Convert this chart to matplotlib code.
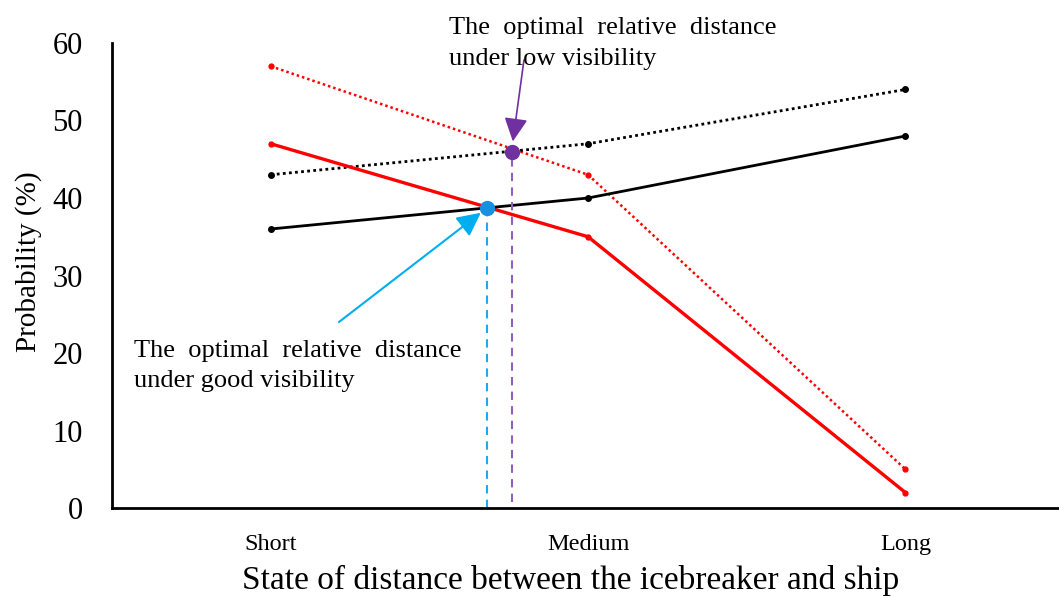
import matplotlib
matplotlib.use('Agg')
import matplotlib.pyplot as plt

plt.rcParams['font.family'] = ['Liberation Serif', 'DejaVu Serif']

categories = ['Short', 'Medium', 'Long']
good_red = [47, 35, 2]
good_black = [36, 40, 48]
low_red = [57, 43, 5]
low_black = [43, 47, 54]

# optimal points (x in category units)
good_opt = (0.68, 38.7)
low_opt = (0.76, 45.9)
yticks = [0, 10, 20, 30, 40, 50, 60]

fig = plt.figure(figsize=(10.59, 5.97), dpi=100)
ax = fig.add_axes([0.1058, 0.149, 0.899, 0.779])

x = list(range(len(categories)))
ax.plot(x, low_red, color='red', lw=1.8, ls=(0, (1, 1.2)), marker='o', ms=3.5)
ax.plot(x, low_black, color='black', lw=2, ls=(0, (1, 1.2)), marker='o', ms=4)
ax.plot(x, good_red, color='red', lw=2.4, marker='o', ms=3.5)
ax.plot(x, good_black, color='black', lw=2, marker='o', ms=4)

# drop lines to the axis
ax.plot([good_opt[0], good_opt[0]], [0, good_opt[1]], color='#1fa8f0', lw=1.5, ls=(0, (4, 3)))
ax.plot([low_opt[0], low_opt[0]], [0.8, low_opt[1]], color='#9060c0', lw=1.5, ls=(0, (4, 3)))
ax.plot(*good_opt, marker='o', ms=10, color='#1890e0', zorder=5)
ax.plot(*low_opt, marker='o', ms=10, color='#7030A0', zorder=5)

# arrows
arrow = '-|>,head_length=0.9,head_width=0.45'
ax.annotate('', xy=(0.662, 38.1), xytext=(0.215, 24.0),
            arrowprops=dict(arrowstyle=arrow, color='#00aef0', lw=1.5, shrinkA=0, shrinkB=0,
                            mutation_scale=16))
ax.annotate('', xy=(0.763, 47.3), xytext=(0.798, 57.8), annotation_clip=False,
            arrowprops=dict(arrowstyle=arrow, color='#7030A0', lw=1.2, shrinkA=0, shrinkB=0,
                            mutation_scale=16))

ax.text(-0.432, 21.7, 'The  optimal  relative  distance\nunder good visibility', fontsize=19,
        ha='left', va='top', linespacing=1.5)
ax.text(0.562, 63.3, 'The  optimal  relative  distance\nunder low visibility', fontsize=19,
        ha='left', va='top', linespacing=1.5, clip_on=False)

ax.set_xlim(-0.5, 2.5)
ax.set_ylim(0, 60)
ax.set_xticks(x)
ax.set_xticklabels(categories, fontsize=17.5)
ax.set_yticks(yticks)
ax.set_yticklabels([str(v) for v in yticks], fontsize=22)
ax.tick_params(axis='both', length=0)
ax.tick_params(axis='y', pad=21)
ax.tick_params(axis='x', pad=19)
ax.spines['top'].set_visible(False)
ax.spines['right'].set_visible(False)
ax.spines['left'].set_linewidth(2)
ax.spines['bottom'].set_linewidth(2)
ax.set_xlabel('State of distance between the icebreaker and ship', fontsize=24)
ax.set_ylabel('Probability (%)', fontsize=21)
ax.xaxis.set_label_coords(0.482, -0.122)
ax.yaxis.set_label_coords(-0.074, 0.529)

fig.savefig('out.png', dpi=100)
